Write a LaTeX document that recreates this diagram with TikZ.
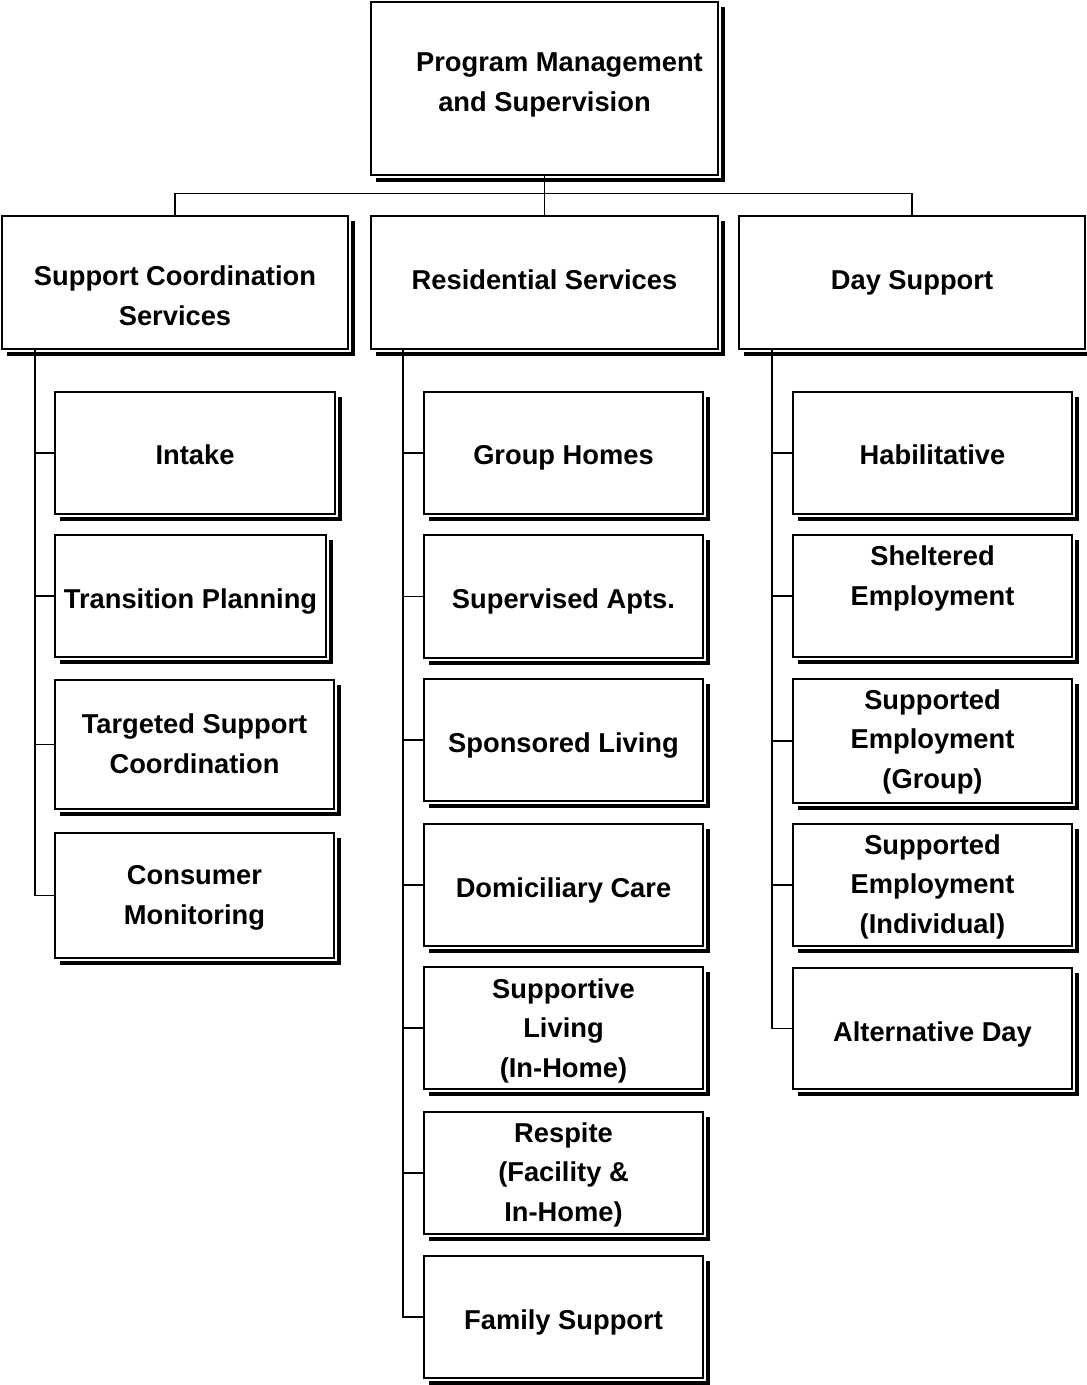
\documentclass[tikz,border=0pt]{standalone}
\usepackage{fontspec}
\setmainfont{Liberation Sans}
\tikzset{
  box/.style={draw, line width=1.2pt, fill=white, inner sep=0pt},
  shadowline/.style={line width=4pt, line join=miter},
  lbl/.style={font=\fontsize{27.3}{39.5}\selectfont\bfseries, align=center, inner sep=0pt,
    yshift=-4pt, execute at begin node=\strut, execute at end node=\strut},
  conn/.style={line width=1.1pt},
}
% name, x1, y1, x2, y2, text y, text
\newcommand\obox[7]{%
  \draw[shadowline] ({#4+5},{#3+5}) -- ({#4+5},{#5+5}) -- ({#2+5},{#5+5});
  \node[box, minimum width={#4pt-#2pt}, minimum height={#5pt-#3pt}] (#1) at ({(#2+#4)/2},{(#3+#5)/2}) {};
  \node[lbl] (#1-t) at ({(#2+#4)/2},#6) {#7};
}
\begin{document}
\begin{tikzpicture}[x=1pt, y=-1pt]
\useasboundingbox (0,0) rectangle (1087,1385);

% top
\obox{pm}{371}{2}{718}{175}{84}{\hspace*{30pt}Program Management\\and Supervision}

% level 2
\obox{sc}{2}{216}{348}{349}{297.5}{Support Coordination\\Services}
\obox{rs}{371}{216}{718}{349}{278}{Residential Services}
\obox{ds}{739}{216}{1085}{349}{278}{Day Support}

% left column
\obox{in}{55}{392}{335}{514}{453}{Intake}
\obox{tp}{55}{535}{326}{657}{597}{Transition Planning}
\obox{ts}{55}{680}{334}{809}{745.5}{Targeted Support\\Coordination}
\obox{cm}{55}{833}{334}{958}{897}{Consumer\\Monitoring}

% middle column
\obox{gh}{424}{392}{703}{514}{453}{Group Homes}
\obox{sa}{424}{535}{703}{658}{597}{Supervised Apts.}
\obox{sl}{424}{679}{703}{801}{741}{Sponsored Living}
\obox{dc}{424}{824}{703}{946}{886}{Domiciliary Care}
\obox{sv}{424}{967}{703}{1089}{1030}{Supportive\\Living\\(In-Home)}
\obox{re}{424}{1112}{703}{1234}{1174}{Respite\\(Facility \&\\In-Home)}
\obox{fs}{424}{1256}{703}{1378}{1318}{Family Support}

% right column
\obox{hb}{793}{392}{1072}{514}{453}{Habilitative}
\obox{se}{793}{535}{1072}{657}{577.5}{Sheltered\\Employment}
\obox{sg}{793}{679}{1072}{803}{741}{Supported\\Employment\\(Group)}
\obox{si}{793}{824}{1072}{946}{886}{Supported\\Employment\\(Individual)}
\obox{ad}{793}{968}{1072}{1089}{1030}{Alternative Day}

% top connectors
\draw[conn] (pm.south) -- (rs.north);
\draw[conn] (sc.north) -- ++(0,-22) -| (ds.north);

% spines
\coordinate (lsp) at (35,349);
\coordinate (msp) at (403,349);
\coordinate (rsp) at (772,349);

\draw[conn] (lsp) |- (cm.west);
\foreach \c in {in,tp,ts} \draw[conn] (lsp |- \c.west) -- (\c.west);

\draw[conn] (msp) |- (fs.west);
\foreach \c in {gh,sa,sl,dc,sv,re} \draw[conn] (msp |- \c.west) -- (\c.west);

\draw[conn] (rsp) |- (ad.west);
\foreach \c in {hb,se,sg,si} \draw[conn] (rsp |- \c.west) -- (\c.west);
\end{tikzpicture}
\end{document}
